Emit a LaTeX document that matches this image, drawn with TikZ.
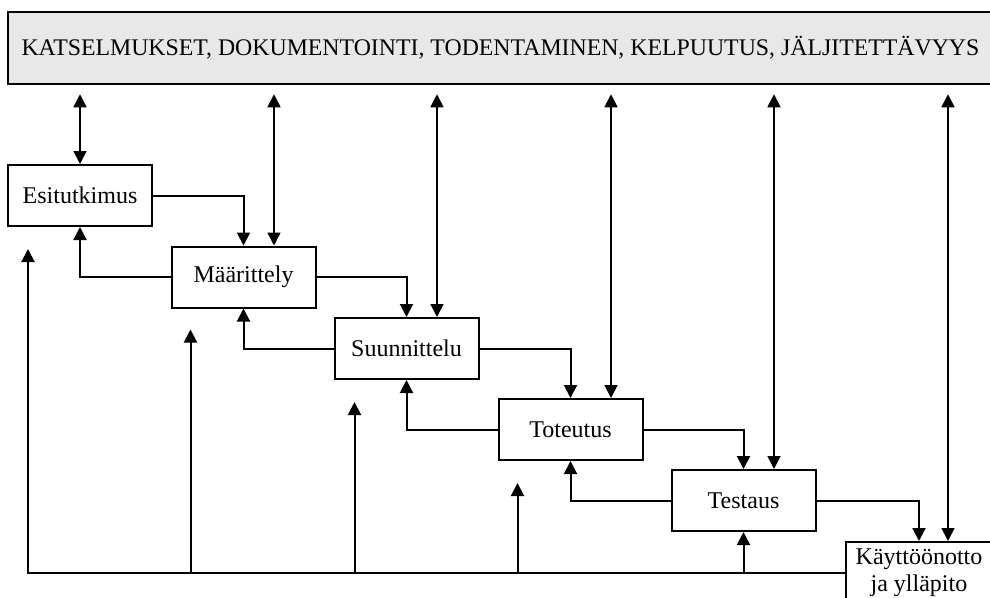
\documentclass[tikz,border=0pt]{standalone}
\usepackage{fontspec}
\setmainfont{Liberation Serif}
\usetikzlibrary{arrows.meta}
\definecolor{bannergray}{HTML}{E8E8E8}
\begin{document}
\begin{tikzpicture}[x=1pt,y=-1pt,
  phase/.style={draw,line width=2pt,minimum width=144pt,minimum height=61pt,
    inner sep=0pt,font=\fontsize{24}{27}\selectfont,align=center},
  tip/.tip={Triangle[length=13pt,width=13pt]},
  link/.style={line width=2pt,-tip},
  both/.style={line width=1.7pt,tip-tip,shorten <=9pt}]
\clip (0,0) rectangle (990,597);
\fill[white] (0,0) rectangle (990,597);

% common activities banner
\node[draw,line width=2.5pt,fill=bannergray,minimum width=985pt,minimum height=72pt,
  inner sep=0pt,font=\fontsize{23.8}{27}\selectfont] (banner) at (500.5,48)
  {KATSELMUKSET, DOKUMENTOINTI, TODENTAMINEN, KELPUUTUS, JÄLJITETTÄVYYS};

% phases
\node[phase] (esi) at (80,195.5) {Esitutkimus};
\node[phase] (maa) at (243.5,277) {Määrittely};
\node[phase] (suu) at (406.5,348.5) {Suunnittelu};
\node[phase] (tot) at (570.5,429.5) {Toteutus};
\node[phase] (tes) at (743.5,500.5) {Testaus};
\node[phase,minimum width=146pt] (kay) at (919,572.5) {Käyttöönotto\\ja ylläpito};

% forward flow
\draw[link] (esi.east) -| (maa.north);
\draw[link] (maa.east) -| (suu.north);
\draw[link] (suu.east) -| (tot.north);
\draw[link] (tot.east) -| (tes.north);
\draw[link] (tes.east) -| (kay.north);

% feedback to the previous phase
\draw[link] (maa.west) -| (esi.south);
\draw[link] (suu.west) -| (maa.south);
\draw[link] (tot.west) -| (suu.south);
\draw[link] (tes.west) -| (tot.south);

% links between the banner and each phase
\coordinate (b0) at (esi.north);
\coordinate (b1) at ([xshift=30.5pt]maa.north);
\coordinate (b2) at ([xshift=30.5pt]suu.north);
\coordinate (b3) at ([xshift=40.5pt]tot.north);
\coordinate (b4) at ([xshift=30.5pt]tes.north);
\coordinate (b5) at ([xshift=29pt]kay.north);
\foreach \b in {b0,b1,b2,b3,b4,b5}
  \draw[both] (banner.south -| \b) -- (\b);

% return line from maintenance
\coordinate (r0) at ([xshift=21pt,yshift=-22pt]esi.south west);
\coordinate (r1) at ([xshift=20pt,yshift=-21pt]maa.south west);
\coordinate (r2) at ([xshift=21pt,yshift=-22pt]suu.south west);
\coordinate (r3) at ([xshift=20pt,yshift=-22pt]tot.south west);
\draw[link] (kay.west) -| (r0);
\draw[link] (r1 |- kay.west) -- (r1);
\draw[link] (r2 |- kay.west) -- (r2);
\draw[link] (r3 |- kay.west) -- (r3);
\draw[link] (tes.south |- kay.west) -- (tes.south);
\end{tikzpicture}
\end{document}
